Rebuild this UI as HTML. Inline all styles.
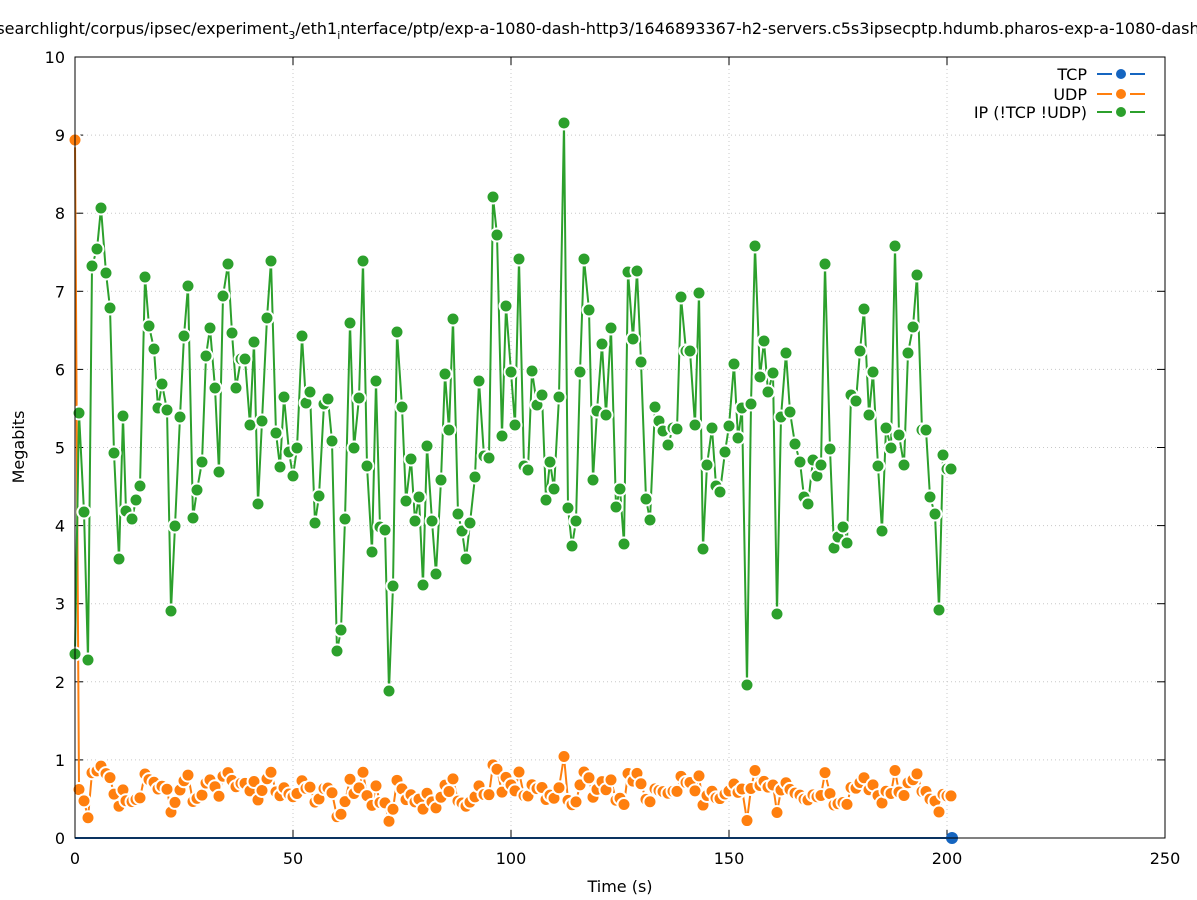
<!DOCTYPE html>
<html><head><meta charset="utf-8"><style>
html,body{margin:0;padding:0;background:#fff;}
svg{display:block;font-family:"DejaVu Sans","Liberation Sans",sans-serif;}
</style></head><body>
<svg id="s" width="1197" height="900" xmlns="http://www.w3.org/2000/svg">
<rect width="1197" height="900" fill="#fff"/>
<g id="grid" stroke="#c8c8c8" stroke-width="1" stroke-dasharray="1,3"></g>
<g id="ticks" stroke="#000" stroke-width="1"></g>
<g id="labels" font-size="16" fill="#000"></g>
<text x="598" y="34" font-size="16" text-anchor="middle">searchlight/corpus/ipsec/experiment<tspan font-size="11" dy="5">3</tspan><tspan dy="-5">/eth1</tspan><tspan font-size="11" dy="5">i</tspan><tspan dy="-5">nterface/ptp/exp-a-1080-dash-http3/1646893367-h2-servers.c5s3ipsecptp.hdumb.pharos-exp-a-1080-dash</tspan></text>
<text x="620" y="892" font-size="16" text-anchor="middle">Time (s)</text>
<text x="24" y="447" font-size="16" text-anchor="middle" transform="rotate(-90 24 447)">Megabits</text>
<g id="series"></g>
<rect x="75" y="57" width="1090" height="781" fill="none" stroke="#000" stroke-width="1"/>
<g font-size="16" text-anchor="end">
<text x="1087" y="80">TCP</text>
<text x="1087" y="100">UDP</text>
<text x="1087" y="118">IP (!TCP  !UDP)</text>
<line x1="1097" y1="74" x2="1112" y2="74" stroke="#1565c0" stroke-width="2"/><line x1="1130" y1="74" x2="1145" y2="74" stroke="#1565c0" stroke-width="2"/><circle cx="1121" cy="74" r="6" fill="#1565c0" stroke="#fff" stroke-width="2"/>
<line x1="1097" y1="94" x2="1112" y2="94" stroke="#ff7f0e" stroke-width="2"/><line x1="1130" y1="94" x2="1145" y2="94" stroke="#ff7f0e" stroke-width="2"/><circle cx="1121" cy="94" r="6" fill="#ff7f0e" stroke="#fff" stroke-width="2"/>
<line x1="1097" y1="112" x2="1112" y2="112" stroke="#2ca02c" stroke-width="2"/><line x1="1130" y1="112" x2="1145" y2="112" stroke="#2ca02c" stroke-width="2"/><circle cx="1121" cy="112" r="6" fill="#2ca02c" stroke="#fff" stroke-width="2"/>
</g>
</svg>
<script>
var NS="http://www.w3.org/2000/svg";
function el(p,t,a,txt){var e=document.createElementNS(NS,t);for(var k in a)e.setAttribute(k,a[k]);if(txt!==undefined)e.textContent=txt;document.getElementById(p).appendChild(e);return e;}
for(var i=0;i<=5;i++){var x=75+i*218;el('grid','line',{x1:x,y1:57,x2:x,y2:838});el('ticks','line',{x1:x,y1:838,x2:x,y2:830});el('ticks','line',{x1:x,y1:57,x2:x,y2:65});el('labels','text',{x:x,y:864,'text-anchor':'middle'},String(i*50));}
for(var i=0;i<=10;i++){var y=838-i*78.1;el('grid','line',{x1:75,y1:y,x2:1165,y2:y});el('ticks','line',{x1:75,y1:y,x2:83,y2:y});el('ticks','line',{x1:1165,y1:y,x2:1157,y2:y});el('labels','text',{x:65,y:y+6,'text-anchor':'end'},String(i));}
var g=[[75,654],[79,413],[84,512],[88,660],[92,266],[97,249],[101,208],[106,273],[110,308],[114,453],[119,559],[123,416],[126,511],[132,519],[136,500],[140,486],[145,277],[149,326],[154,349],[158,408],[162,384],[167,410],[171,611],[175,526],[180,417],[184,336],[188,286],[193,518],[197,490],[202,462],[206,356],[210,328],[215,388],[219,472],[223,296],[228,264],[232,333],[236,388],[241,359],[245,359],[250,425],[254,342],[258,504],[262,421],[267,318],[271,261],[276,433],[280,467],[284,397],[289,452],[293,476],[297,448],[302,336],[306,403],[310,392],[315,523],[319,496],[324,404],[328,399],[332,441],[337,651],[341,630],[345,519],[350,323],[354,448],[359,398],[363,261],[367,466],[372,552],[376,381],[380,527],[385,530],[389,691],[393,586],[397,332],[402,407],[406,501],[411,459],[415,521],[419,497],[423,585],[427,446],[432,521],[436,574],[441,480],[445,374],[449,430],[453,319],[458,514],[462,531],[466,559],[470,523],[475,477],[479,381],[484,456],[489,458],[493,197],[497,235],[502,436],[506,306],[511,372],[515,425],[519,259],[524,466],[528,470],[532,371],[537,405],[542,395],[546,500],[550,462],[554,489],[559,397],[564,123],[568,508],[572,546],[576,521],[580,372],[584,259],[589,310],[593,480],[597,411],[602,344],[606,415],[611,328],[616,507],[620,489],[624,544],[628,272],[633,339],[637,271],[641,362],[646,499],[650,520],[655,407],[659,421],[663,431],[668,445],[673,428],[677,429],[681,297],[686,351],[690,351],[695,425],[699,293],[703,549],[707,465],[712,428],[716,486],[720,492],[725,452],[729,426],[734,364],[738,438],[742,408],[747,685],[751,404],[755,246],[760,377],[764,341],[768,392],[773,373],[777,614],[781,417],[786,353],[790,412],[795,444],[800,462],[804,497],[808,504],[813,460],[817,476],[821,465],[825,264],[830,449],[834,548],[838,537],[843,527],[847,543],[851,395],[856,401],[860,351],[864,309],[869,415],[873,372],[878,466],[882,531],[886,428],[891,448],[895,246],[899,435],[904,465],[908,353],[913,327],[917,275],[922,430],[926,430],[930,497],[935,514],[939,610],[943,455],[947,469],[951,469]];
var o=g.map(function(p,i){return [p[0], i==0?140:838-(838-p[1])*0.114];});
function series(pts,col){
 var d=pts.map(function(p){return p.join(',');}).join(' ');
 el('series','polyline',{points:d,fill:'none',stroke:col,'stroke-width':2});
 pts.forEach(function(p){el('series','circle',{cx:p[0],cy:p[1],r:6.5,fill:col,stroke:'#fff','stroke-width':2});});
}
el('series','line',{x1:75,y1:838,x2:952,y2:838,stroke:'#1565c0','stroke-width':2});
series(o,'#ff7f0e');
series(g,'#2ca02c');
el('series','circle',{cx:952,cy:838,r:6,fill:'#1565c0'});
</script>
</body></html>
